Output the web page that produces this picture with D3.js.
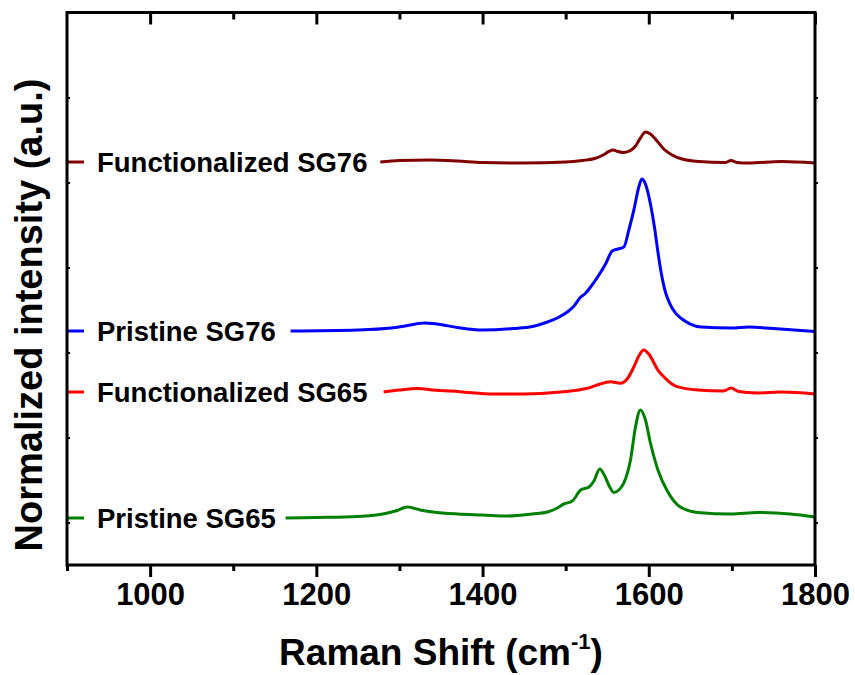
<!DOCTYPE html>
<html>
<head>
<meta charset="utf-8">
<script src="https://cdn.jsdelivr.net/npm/d3@7"></script>
<style>
  html, body { margin: 0; padding: 0; background: #fff; }
  svg text { font-family: Arial, "Liberation Sans", sans-serif; font-weight: bold; fill: #000; }
</style>
</head>
<body>
<svg id="chart" width="855" height="675"></svg>
<script>
// ---------- data ----------
const xMajorTicks = [1000, 1200, 1400, 1600, 1800];
const xMinorTicks = [900, 1100, 1300, 1500, 1700];
const yTicks = [0.5, 1.5, 2.5, 3.5, 4.5, 5.5];

const seriesNames = ["Functionalized SG76", "Pristine SG76", "Functionalized SG65", "Pristine SG65"];
const seriesColors = ["#800000", "#0000ff", "#ff0000", "#008000"];

const funcSG76_x = [1277,1300,1337,1370,1400,1450,1500,1520,1535,1545,1552,1557,1563,1570,1578,1584,1590,1596,1602,1610,1618,1628,1640,1660,1692,1699,1706,1720,1760,1800];
const funcSG76_y = [4.741,4.759,4.765,4.753,4.735,4.729,4.741,4.759,4.782,4.824,4.865,4.882,4.865,4.853,4.876,4.929,5.024,5.094,5.071,4.988,4.894,4.824,4.776,4.747,4.735,4.759,4.735,4.729,4.747,4.729];

const priSG76_x = [1169,1250,1290,1310,1330,1345,1370,1400,1437,1460,1478,1490,1502,1510,1518,1523,1530,1540,1548,1556,1563,1570,1576,1582,1588,1591.6,1596,1602,1607,1611,1615,1620,1625,1632,1640,1650,1663,1700,1720,1750,1800];
const priSG76_y = [2.753,2.765,2.788,2.818,2.847,2.835,2.794,2.765,2.782,2.806,2.859,2.906,2.976,3.047,3.153,3.188,3.271,3.412,3.541,3.694,3.718,3.741,3.941,4.176,4.447,4.541,4.482,4.247,3.965,3.682,3.435,3.212,3.082,2.965,2.894,2.835,2.800,2.788,2.800,2.782,2.747];

const funcSG65_x = [1281,1300,1322,1340,1373,1413,1450,1494,1515,1525,1538,1554,1566,1574,1582,1588,1594,1600,1611,1618,1634,1659,1690,1699,1708,1730,1760,1800];
const funcSG65_y = [2.035,2.059,2.076,2.059,2.039,2.012,2.012,2.035,2.059,2.076,2.118,2.156,2.138,2.188,2.329,2.459,2.529,2.482,2.294,2.215,2.098,2.059,2.047,2.082,2.041,2.024,2.035,2.012];

const priSG65_x = [1163,1200,1250,1280,1295,1310,1325,1340,1370,1400,1430,1460,1478,1490,1498,1508,1518,1528,1534,1541,1547,1553,1558,1564,1570,1578,1584,1590,1596,1602,1611,1623,1638,1659,1699,1731,1770,1800];
const priSG65_y = [0.553,0.559,0.571,0.600,0.635,0.682,0.647,0.624,0.600,0.588,0.576,0.600,0.624,0.671,0.718,0.753,0.882,0.918,0.988,1.129,1.047,0.918,0.853,0.882,0.965,1.235,1.624,1.824,1.706,1.435,1.118,0.859,0.682,0.618,0.600,0.618,0.600,0.565];

const seriesX = [funcSG76_x, priSG76_x, funcSG65_x, priSG65_x];
const seriesY = [funcSG76_y, priSG76_y, funcSG65_y, priSG65_y];

// ---------- layout ----------
const svg = d3.select("#chart");
const L = 67, R = 815, T = 12.5, B = 565;
const x = d3.scaleLinear().domain([900, 1800]).range([L, R]);
const y = d3.scaleLinear().domain([0, 6.5]).range([B, T]);

// curves
const line = d3.line().x(d => x(d[0])).y(d => y(d[1])).curve(d3.curveMonotoneX);
seriesNames.forEach((name, i) => {
  const pts = seriesX[i].map((v, j) => [v, seriesY[i][j]]);
  svg.append("path").datum(pts)
    .attr("d", line)
    .attr("fill", "none")
    .attr("stroke", seriesColors[i])
    .attr("stroke-width", 3)
    .attr("stroke-linejoin", "round");
  // legend-like label with sample line
  const ly = y(seriesY[i][0]);
  svg.append("line")
    .attr("x1", L).attr("x2", L + 17)
    .attr("y1", ly).attr("y2", ly)
    .attr("stroke", seriesColors[i]).attr("stroke-width", 3);
  svg.append("text")
    .attr("x", L + 30).attr("y", ly + 10)
    .attr("font-size", 27.5)
    .text(name);
});

// ---------- axes ----------
const g = svg.append("g");
// bottom axis
const bottom = g.append("g").attr("transform", `translate(0,${B})`)
  .call(d3.axisBottom(x).tickValues(xMajorTicks).tickSize(12).tickSizeOuter(0).tickPadding(6).tickFormat(d3.format("d")));
bottom.select(".domain").remove();
bottom.selectAll(".tick line").attr("stroke-width", 3);
bottom.selectAll(".tick text").attr("font-size", 31).attr("font-family", "Arial, 'Liberation Sans', sans-serif").attr("font-weight", "bold");
g.append("g").attr("transform", `translate(0,${B})`)
  .call(d3.axisBottom(x).tickValues(xMinorTicks).tickSize(6).tickSizeOuter(0).tickFormat(""))
  .call(s => s.select(".domain").remove())
  .selectAll(".tick line").attr("stroke-width", 3);
// top axis (inward)
g.append("g").attr("transform", `translate(0,${T})`)
  .call(d3.axisBottom(x).tickValues(xMajorTicks).tickSize(12).tickSizeOuter(0).tickFormat(""))
  .call(s => s.select(".domain").remove())
  .selectAll(".tick line").attr("stroke-width", 3);
g.append("g").attr("transform", `translate(0,${T})`)
  .call(d3.axisBottom(x).tickValues(xMinorTicks.filter(v => v > 900)).tickSize(7).tickSizeOuter(0).tickFormat(""))
  .call(s => s.select(".domain").remove())
  .selectAll(".tick line").attr("stroke-width", 3);
// left and right small ticks
g.append("g").attr("transform", `translate(${L},0)`)
  .call(d3.axisRight(y).tickValues(yTicks).tickSize(3).tickSizeOuter(0).tickFormat(""))
  .call(s => s.select(".domain").remove())
  .selectAll(".tick line").attr("stroke-width", 2);
g.append("g").attr("transform", `translate(${R},0)`)
  .call(d3.axisRight(y).tickValues(yTicks).tickSize(3).tickSizeOuter(0).tickFormat(""))
  .call(s => s.select(".domain").remove())
  .selectAll(".tick line").attr("stroke-width", 2);

// frame
svg.append("rect")
  .attr("x", L).attr("y", T).attr("width", R - L).attr("height", B - T)
  .attr("fill", "none").attr("stroke", "#000").attr("stroke-width", 3);

// axis titles
const xt = svg.append("text")
  .attr("x", (L + R) / 2).attr("y", 665)
  .attr("text-anchor", "middle")
  .attr("font-size", 37);
xt.append("tspan").text("Raman Shift (cm");
xt.append("tspan").attr("font-size", 22).attr("dy", -16).text("-1");
xt.append("tspan").attr("dy", 16).text(")");

svg.append("text")
  .attr("transform", `translate(42,315) rotate(-90)`)
  .attr("text-anchor", "middle")
  .attr("font-size", 38)
  .text("Normalized intensity (a.u.)");
</script>
</body>
</html>
